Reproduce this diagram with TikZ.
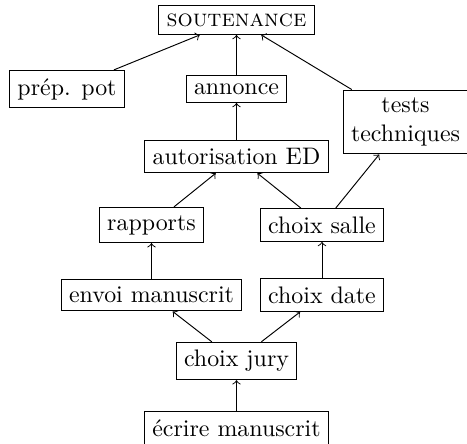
\documentclass[tikz,border=0pt]{standalone}
\begin{document}
\begin{tikzpicture}[x=0.4184pt,y=-0.4184pt,
  task/.style={draw,rectangle,align=center},
  dep/.style={->}]
\useasboundingbox (0,0) rectangle (467,444);
\node[task] (sout) at (236.5,20) {\textsc{soutenance}};
\node[task] (pot) at (67,89) {prép. pot};
\node[task] (ann) at (236.5,89) {annonce};
\node[task,minimum width=51pt] (tests) at (405.5,122) {tests\\techniques};
\node[task] (aut) at (236.5,156.5) {autorisation ED};
\node[task] (rap) at (151.5,225) {rapports};
\node[task] (salle) at (322,225) {choix salle};
\node[task] (envoi) at (151.5,295) {envoi manuscrit};
\node[task] (date) at (322,295) {choix date};
\node[task] (jury) at (236.5,361) {choix jury};
\node[task] (ecr) at (236.5,428) {écrire manuscrit};
\draw[dep] (pot) -- (sout);
\draw[dep] (ann) -- (sout);
\draw[dep] (tests) -- (sout);
\draw[dep] (aut) -- (ann);
\draw[dep] (rap) -- (aut);
\draw[dep] (salle) -- (aut);
\draw[dep] (salle) -- (tests);
\draw[dep] (envoi) -- (rap);
\draw[dep] (date) -- (salle);
\draw[dep] (jury) -- (envoi);
\draw[dep] (jury) -- (date);
\draw[dep] (ecr) -- (jury);
\end{tikzpicture}
\end{document}
